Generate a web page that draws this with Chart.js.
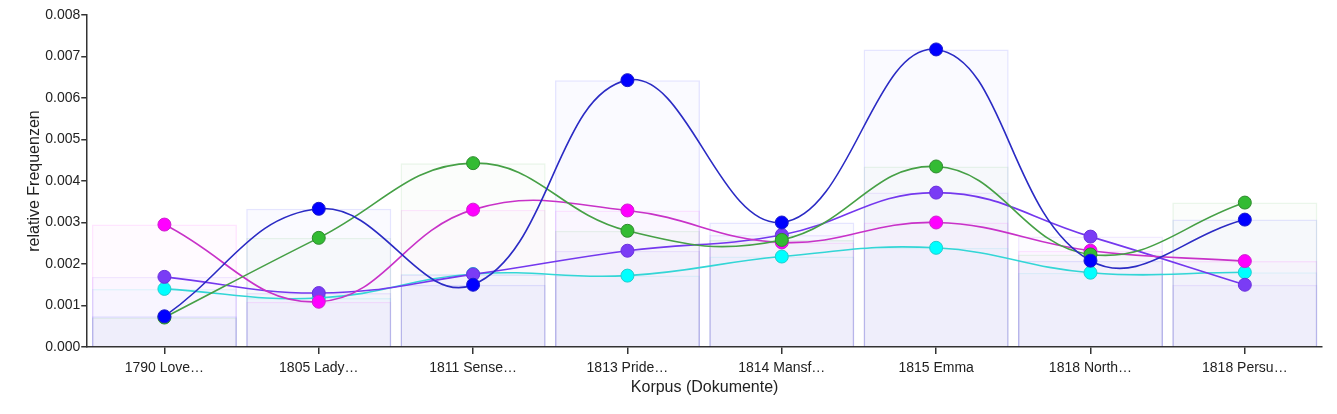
<!DOCTYPE html>
<html>
<head>
<meta charset="utf-8">
<script src="https://cdn.jsdelivr.net/npm/chart.js@4/dist/chart.umd.min.js"></script>
<style>
  html, body { margin: 0; padding: 0; background: #fff; }
  #wrap { width: 1337px; height: 414px; }
</style>
</head>
<body>
<div id="wrap"><canvas id="myChart"></canvas></div>
<script>
// categories (document labels, already shortened like the original)
const docs = ['1790 Love…', '1805 Lady…', '1811 Sense…', '1813 Pride…', '1814 Mansf…', '1815 Emma', '1818 North…', '1818 Persu…'];

// relative frequencies per term
const blueVals    = [0.00074, 0.00333, 0.00150, 0.00643, 0.00300, 0.00717, 0.00208, 0.00307];
const greenVals   = [0.00071, 0.00263, 0.00443, 0.00280, 0.00258, 0.00435, 0.00223, 0.00348];
const magentaVals = [0.00295, 0.00109, 0.00331, 0.00329, 0.00252, 0.00300, 0.00232, 0.00207];
const purpleVals  = [0.00169, 0.00130, 0.00175, 0.00232, 0.00270, 0.00372, 0.00266, 0.00150];
const cyanVals    = [0.00140, 0.00118, 0.00176, 0.00172, 0.00218, 0.00239, 0.00179, 0.00180];

const yTicks = [0, 0.001, 0.002, 0.003, 0.004, 0.005, 0.006, 0.007, 0.008];

const series = [
  { data: blueVals,    rgb: '0,0,255',    line: '#2b2bc4', point: '#0000ff', edge: '#1a1acc' },
  { data: greenVals,   rgb: '50,170,50',  line: '#46a046', point: '#33bb33', edge: '#2e8a2e' },
  { data: magentaVals, rgb: '255,0,255',  line: '#c832c8', point: '#ff00ff', edge: '#cc22cc' },
  { data: purpleVals,  rgb: '120,50,255', line: '#7438ee', point: '#7a3cf5', edge: '#6a30dd' },
  { data: cyanVals,    rgb: '0,220,230',  line: '#33d6d6', point: '#00ffff', edge: '#22cccc' }
];

const font = 'Liberation Sans, Arial, sans-serif';

const datasets = [];
// light bars behind the lines
series.forEach(s => {
  datasets.push({
    type: 'bar',
    data: s.data,
    backgroundColor: 'rgba(' + s.rgb + ',0.018)',
    borderColor: 'rgba(' + s.rgb + ',0.1)',
    borderWidth: 1.5,
    grouped: false,
    barPercentage: 0.94,
    categoryPercentage: 1,
    order: 2
  });
});
// spline lines with points
series.forEach(s => {
  datasets.push({
    type: 'line',
    data: s.data,
    borderColor: s.line,
    borderWidth: 1.6,
    tension: 0.42,
    fill: false,
    pointRadius: 6.5,
    pointBackgroundColor: s.point,
    pointBorderColor: s.edge,
    pointBorderWidth: 1,
    order: 1
  });
});

const ctx = document.getElementById('myChart');

new Chart(ctx, {
  data: {
    labels: docs,
    datasets: datasets
  },
  options: {
    responsive: true,
    maintainAspectRatio: false,
    animation: false,
    layout: { padding: { top: 15, right: 15, bottom: 17, left: 21 } },
    plugins: {
      legend: { display: false },
      tooltip: { enabled: false }
    },
    scales: {
      x: {
        offset: true,
        grid: { display: true, offset: false, drawOnChartArea: false, drawTicks: true, tickLength: 7, color: '#333', lineWidth: 1.5 },
        border: { display: true, color: '#333', width: 1.5 },
        ticks: { color: '#222', font: { family: font, size: 14 }, padding: 6, maxRotation: 0 },
        title: { display: true, text: 'Korpus (Dokumente)', color: '#222', font: { family: font, size: 16 }, padding: { top: -5, bottom: 0 } }
      },
      y: {
        min: 0,
        max: 0.008,
        afterBuildTicks: axis => { axis.ticks = yTicks.map(v => ({ value: v })); },
        grid: { display: true, drawOnChartArea: false, tickLength: 6, color: '#333', lineWidth: 1.5 },
        border: { display: true, color: '#333', width: 1.5 },
        ticks: { color: '#222', font: { family: font, size: 14 }, padding: 1, callback: v => Number(v).toFixed(3) },
        title: { display: true, text: 'relative Frequenzen', color: '#222', font: { family: font, size: 16 }, padding: { bottom: 0 } }
      }
    }
  }
});
</script>
</body>
</html>
